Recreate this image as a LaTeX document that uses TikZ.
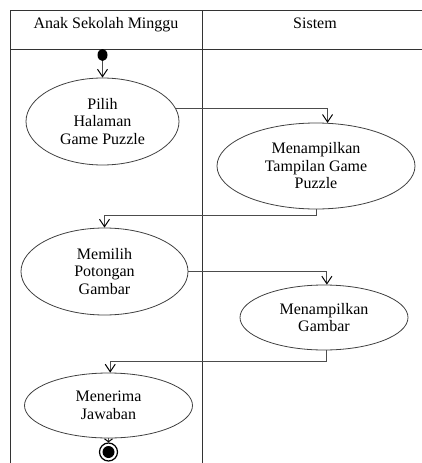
\documentclass[tikz,border=0pt]{standalone}
\usepackage{fontspec}
\setmainfont{Liberation Serif}
\usetikzlibrary{arrows.meta,shapes.geometric}
\begin{document}
\begin{tikzpicture}[x=1pt,y=-1pt,
  lane/.style={draw=black!80, line width=0.9pt},
  act/.style={ellipse, draw=black!75, line width=0.8pt, inner sep=0pt, align=center,
    font=\fontsize{16}{17.5}\selectfont},
  flow/.style={draw=black!70, line width=0.8pt,
    -{Straight Barb[length=7.5pt,width=10pt,line width=1pt,color=black]}},
  hdr/.style={font=\fontsize{16}{17.5}\selectfont, anchor=base}]
\useasboundingbox (0,0) rectangle (422,463);
\clip (0,0) rectangle (422,463);

% swimlane frame
\draw[lane] (10,470) -- (10,10) -- (430,10);
\draw[lane] (10,49) -- (430,49);
\draw[lane] (202,10) -- (202,470);
\node[hdr] (h1) at (106,28) {Anak Sekolah Minggu};
\node[hdr] (h2) at (315,28) {Sistem};

% activities
\node[ellipse, fill=black, minimum width=10, minimum height=12, inner sep=0pt] (start) at (102.5,55) {};
\node[act, minimum width=153, minimum height=87] (e1) at (102.5,121.5) {Pilih\\Halaman\\Game Puzzle};
\node[act, minimum width=198, minimum height=86] (e2) at (316,166) {Menampilkan\\Tampilan Game\\Puzzle};
\node[act, minimum width=167, minimum height=87] (e3) at (104.5,271.5) {Memilih\\Potongan\\Gambar};
\node[act, minimum width=168, minimum height=65] (e4) at (324,317.5) {Menampilkan\\Gambar};
\node[act, minimum width=168, minimum height=65] (e5) at (108.5,405.5) {Menerima\\Jawaban};
\node[circle, draw=black, line width=1.2pt, minimum size=18, inner sep=0pt] (end) at (108.5,452) {};
\fill[black] (end.center) circle (6);

% control flow
\draw[flow] (start) -- (e1.north);
\draw[flow] (e1.10) -| (e2.75);
\draw[flow] (e2.south) -- ++(0,6) -| (e3.north);
\draw[flow] (e3.east) -| (e4.85);
\draw[flow] (e4.-85) -- ++(0,11) -| (e5.87);
\draw[draw=black!70, line width=0.8pt, -{Straight Barb[length=3pt,width=8pt,line width=1pt,color=black]}] (e5.south) -- (end.north);
\end{tikzpicture}
\end{document}
